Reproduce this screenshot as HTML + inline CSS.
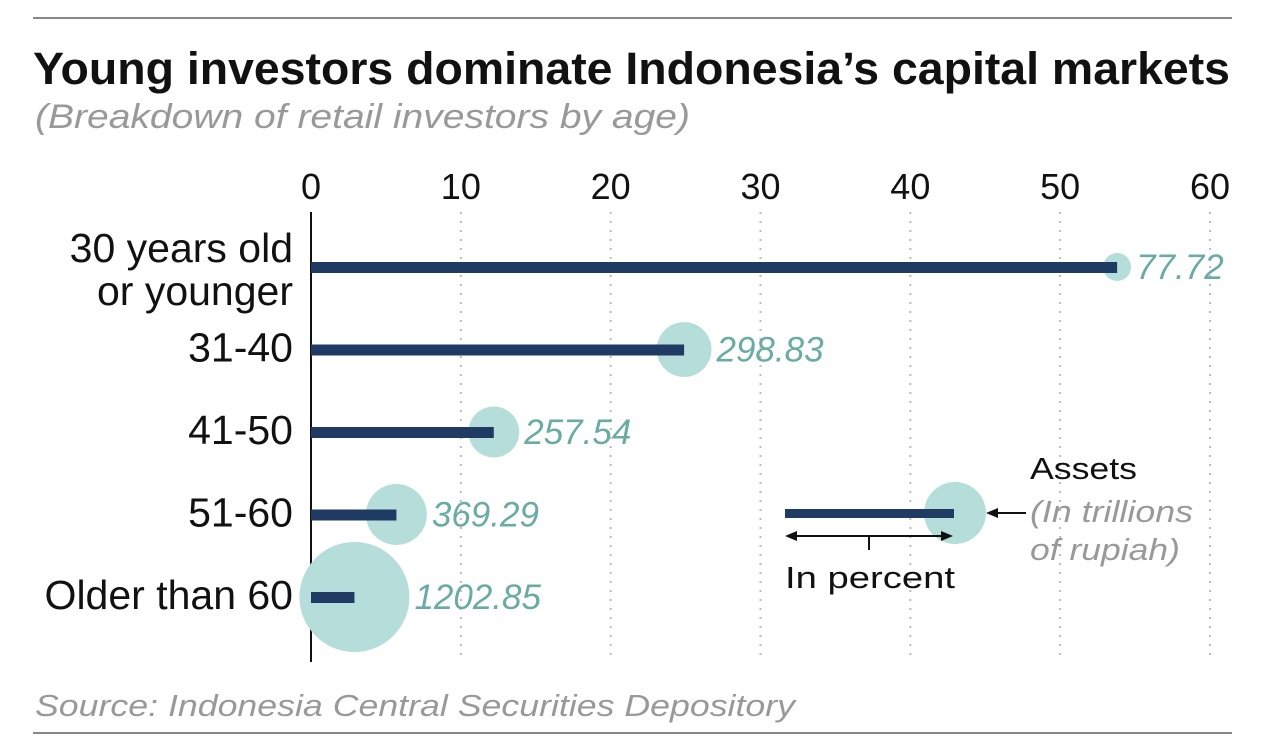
<!DOCTYPE html>
<html><head><meta charset="utf-8"><style>
body{margin:0;background:#fff;}
svg{display:block;font-family:"Liberation Sans",sans-serif;}
</style></head><body>
<svg id="chart" width="1280" height="751" viewBox="0 0 1280 751">
<line x1="33" y1="18" x2="1232" y2="18" stroke="#888" stroke-width="2"/>
<text x="33" y="84" font-size="45" font-weight="bold" fill="#111" textLength="1197" lengthAdjust="spacingAndGlyphs">Young investors dominate Indonesia’s capital markets</text>
<text x="35" y="128" font-size="34" font-style="italic" fill="#999" textLength="655" lengthAdjust="spacingAndGlyphs">(Breakdown of retail investors by age)</text>
<g id="grid"></g>
<g id="marks"></g>
<g>
<circle cx="955" cy="513" r="31" fill="#b5ddd9"/>
<rect x="785" y="509" width="169" height="9" fill="#1f3a63"/>
<line x1="790" y1="536" x2="948" y2="536" stroke="#111" stroke-width="2"/>
<polygon points="785,536 797,531 797,541" fill="#111"/>
<polygon points="953,536 941,531 941,541" fill="#111"/>
<line x1="869" y1="536" x2="869" y2="550" stroke="#111" stroke-width="2"/>
<text x="785" y="588" font-size="31" fill="#111" textLength="170" lengthAdjust="spacingAndGlyphs">In percent</text>
<line x1="990" y1="513" x2="1026" y2="513" stroke="#111" stroke-width="2"/>
<polygon points="986,513 998,508 998,518" fill="#111"/>
<text x="1030" y="479" font-size="31" fill="#111" textLength="107" lengthAdjust="spacingAndGlyphs">Assets</text>
<text x="1030" y="522" font-size="31" font-style="italic" fill="#999" textLength="163" lengthAdjust="spacingAndGlyphs">(In trillions</text>
<text x="1030" y="560" font-size="31" font-style="italic" fill="#999" textLength="150" lengthAdjust="spacingAndGlyphs">of rupiah)</text>
</g>
<text x="35" y="716" font-size="31" font-style="italic" fill="#999" textLength="760" lengthAdjust="spacingAndGlyphs">Source: Indonesia Central Securities Depository</text>
<line x1="33" y1="733" x2="1232" y2="733" stroke="#888" stroke-width="2"/>
</svg>
<script>
const categories=[["30 years old","or younger"],["31-40"],["41-50"],["51-60"],["Older than 60"]];
const percents=[53.8,24.9,12.2,5.7,2.9];
const assets=[77.72,298.83,257.54,369.29,1202.85];
const assetLabels=["77.72","298.83","257.54","369.29","1202.85"];
const ticks=[0,10,20,30,40,50,60];
const NS="http://www.w3.org/2000/svg";
const x=v=>311+v*(1210-311)/60;
const y=i=>267+i*82.5;
const r=v=>55*Math.sqrt(v/1202.85);
function mk(t,a,p){const e=document.createElementNS(NS,t);for(const k in a)e.setAttribute(k,a[k]);p.appendChild(e);return e;}
const grid=document.getElementById('grid'),marks=document.getElementById('marks');
ticks.forEach(t=>{
 if(t>0){const l=mk('line',{x1:x(t),y1:212,x2:x(t),y2:662,stroke:'#bbb','stroke-width':2,'stroke-dasharray':'2 7'},grid);
 
 }
 const tx=mk('text',{x:x(t),y:199,'font-size':36,'text-anchor':'middle',fill:'#111'},grid);tx.textContent=t;
 
 
});
const ax=mk('line',{x1:311,y1:212,x2:311,y2:662,stroke:'#111','stroke-width':2},grid);


categories.forEach((c,i)=>{
 const cy=y(i);
 const b=mk('circle',{cx:x(percents[i]),cy:cy,r:r(assets[i]),fill:'#b5ddd9'},marks);
 
 
 const bar=mk('rect',{x:311,y:cy-5,width:x(percents[i])-311,height:11,fill:'#1f3a63'},marks);
 
 
 const lv=mk('text',{x:x(percents[i])+r(assets[i])+5,y:cy+12,'font-size':35,'font-style':'italic',fill:'#6aaba3'},marks);lv.textContent=assetLabels[i];
 
 
 c.forEach((s,j)=>{const tl=mk('text',{x:293,y:cy+12+(c.length>1?(j===0?-17:26):0),'font-size':41,'text-anchor':'end',fill:'#111'},marks);tl.textContent=s;
 
 });
});
</script>
</body></html>
